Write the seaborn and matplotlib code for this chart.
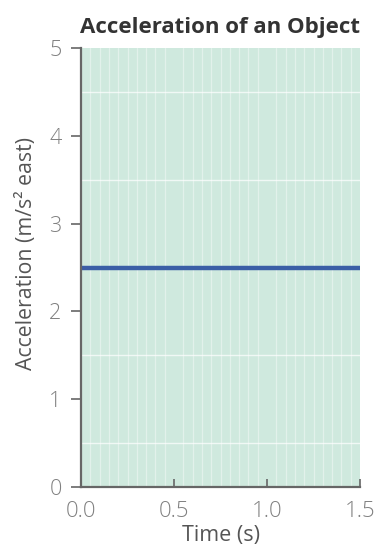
import matplotlib
matplotlib.use("Agg")
import matplotlib.pyplot as plt
import seaborn as sns
import pandas as pd
from matplotlib.ticker import MultipleLocator

# Constant acceleration over time
time_s = [0.0, 1.5]
accel = [2.5, 2.5]
x_ticks = [0.0, 0.5, 1.0, 1.5]
x_tick_labels = ["0.0", "0.5", "1.0", "1.5"]
y_ticks = [0, 1, 2, 3, 4, 5]

sns.set_theme(style="white")
plt.rcParams["font.family"] = ["Open Sans", "DejaVu Sans"]

df = pd.DataFrame({"Time (s)": time_s, "Acceleration": accel})

fig = plt.figure(figsize=(3.78, 5.46), dpi=100)
ax = fig.add_axes([81 / 378, 1 - 487 / 546, 279 / 378, 439 / 546])
ax.set_facecolor("#cfe9de")

# fine grid in the plotting area
ax.xaxis.set_minor_locator(MultipleLocator(0.05))
ax.yaxis.set_minor_locator(MultipleLocator(0.5))
ax.grid(which="minor", axis="x", color="white", linewidth=0.9, alpha=0.4)
ax.grid(which="minor", axis="y", color="white", linewidth=1.0, alpha=0.7)
ax.set_axisbelow(True)

sns.lineplot(data=df, x="Time (s)", y="Acceleration", ax=ax,
             color="#3b5ea6", linewidth=3.2, solid_capstyle="butt")

ax.set_xlim(0, 1.5)
ax.set_ylim(0, 5)
ax.set_xticks(x_ticks)
ax.set_xticklabels(x_tick_labels)
ax.set_yticks(y_ticks)

for s in ["top", "right"]:
    ax.spines[s].set_visible(False)
for s in ["left", "bottom"]:
    ax.spines[s].set_color("#666666")
    ax.spines[s].set_linewidth(1.6)

ax.tick_params(axis="y", which="major", direction="out", length=7, width=1.2,
               color="#666666", labelsize=15.5, labelcolor="#808080", pad=7, left=True)
ax.tick_params(axis="x", which="major", direction="in", length=6, width=1.2,
               color="#666666", labelsize=16, labelcolor="#808080", pad=10, bottom=True)
ax.tick_params(which="minor", length=0)
for lab in ax.get_xticklabels() + ax.get_yticklabels():
    lab.set_fontweight("light")

ax.set_xlabel("Time (s)", fontsize=15.5, color="#555555")
ax.xaxis.label.set_va("center")
ax.xaxis.set_label_coords(0.5, (487 - 535) / 439)

ax.set_ylabel("Acceleration (m/s² east)", fontsize=15.3, color="#555555")
ax.yaxis.label.set_va("center")
ax.yaxis.set_label_coords((27 - 81) / 279, (487 - 253) / 439)

ax.set_title("Acceleration of an Object", fontsize=16, fontweight="bold",
             color="#333333", pad=11)

fig.savefig("out.png", dpi=100)
